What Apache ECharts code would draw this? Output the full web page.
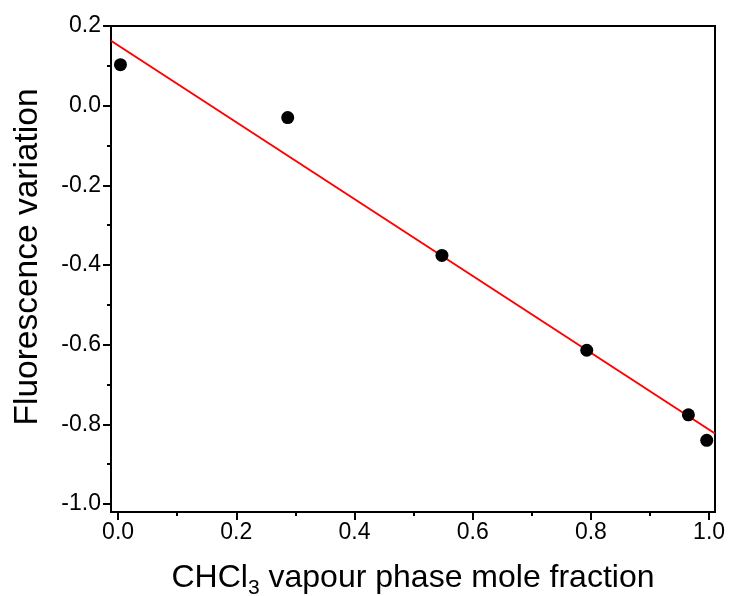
<!DOCTYPE html>
<html>
<head>
<meta charset="utf-8">
<title>Fluorescence variation</title>
<script src="https://cdn.jsdelivr.net/npm/echarts@6/dist/echarts.min.js"></script>
<style>
  html, body { margin: 0; padding: 0; background: #fff; }
  #chart { width: 732px; height: 596px; }
</style>
</head>
<body>
<div id="chart"></div>
<script>
// measured points
var moleFraction = [0.004, 0.287, 0.548, 0.793, 0.965, 0.996];
var fluorescence = [0.103, -0.030, -0.376, -0.614, -0.776, -0.840];
// linear fit, end points at the frame edges
var fitX = [-0.012, 1.01];
var fitY = [0.163, -0.823];
// tick labels
var xTicks = [0, 0.2, 0.4, 0.6, 0.8, 1.0];
var xMinorTicks = [0.1, 0.3, 0.5, 0.7, 0.9];
var yTicks = [-1.0, -0.8, -0.6, -0.4, -0.2, 0, 0.2];
var yMinorTicks = [-0.9, -0.7, -0.5, -0.3, -0.1, 0.1];

var font = "'Liberation Sans', Arial, sans-serif";

var points = [];
for (var i = 0; i < moleFraction.length; i++) {
  points.push([moleFraction[i], fluorescence[i]]);
}
var fitLine = [];
for (var j = 0; j < fitX.length; j++) {
  fitLine.push([fitX[j], fitY[j]]);
}

function fmt(v) {
  return (+v).toFixed(1);
}

var chart = echarts.init(document.getElementById('chart'));
chart.setOption({
  animation: false,
  grid: {
    left: 111,
    right: 17,
    top: 26,
    bottom: 84,
    outerBoundsMode: 'none',
    containLabel: false,
    show: true,
    borderColor: '#000',
    borderWidth: 2
  },
  xAxis: [
    {
      type: 'value',
      min: -0.012,
      max: 1.01,
      name: '{n|CHCl}{s|3}{n| vapour phase mole fraction}',
      nameLocation: 'middle',
      nameGap: 50,
      nameTextStyle: {
        rich: {
          n: { fontSize: 32, fontFamily: font, color: '#000', lineHeight: 38, verticalAlign: 'top' },
          s: { fontSize: 21, fontFamily: font, color: '#000', lineHeight: 21, padding: [16, 0, 0, 0], verticalAlign: 'top' }
        }
      },
      axisLine: { show: true, onZero: false, lineStyle: { color: '#000', width: 2 } },
      axisTick: { show: true, length: 8, lineStyle: { color: '#000', width: 2 }, customValues: xTicks },
      axisLabel: { show: true, margin: 9, fontSize: 23, fontFamily: font, color: '#000', formatter: fmt, customValues: xTicks },
      splitLine: { show: false }
    },
    {
      // minor ticks
      type: 'value',
      position: 'bottom',
      min: -0.012,
      max: 1.01,
      axisLine: { show: false, onZero: false },
      axisTick: { show: true, length: 4, lineStyle: { color: '#000', width: 2 }, customValues: xMinorTicks },
      axisLabel: { show: false },
      splitLine: { show: false }
    }
  ],
  yAxis: [
    {
      type: 'value',
      min: -1.02,
      max: 0.2,
      name: 'Fluorescence variation',
      nameLocation: 'middle',
      nameGap: 66,
      nameTextStyle: { fontSize: 33.5, fontFamily: font, color: '#000', padding: [0, 0, 0, 24] },
      axisLine: { show: true, onZero: false, lineStyle: { color: '#000', width: 2 } },
      axisTick: { show: true, length: 8, lineStyle: { color: '#000', width: 2 }, customValues: yTicks },
      axisLabel: { show: true, margin: 10, fontSize: 23, fontFamily: font, color: '#000', formatter: fmt, customValues: yTicks },
      splitLine: { show: false }
    },
    {
      type: 'value',
      position: 'left',
      min: -1.02,
      max: 0.2,
      axisLine: { show: false, onZero: false },
      axisTick: { show: true, length: 4, lineStyle: { color: '#000', width: 2 }, customValues: yMinorTicks },
      axisLabel: { show: false },
      splitLine: { show: false }
    }
  ],
  series: [
    {
      type: 'line',
      data: fitLine,
      showSymbol: false,
      symbol: 'none',
      lineStyle: { color: '#ff0000', width: 2 },
      z: 2
    },
    {
      type: 'scatter',
      data: points,
      symbol: 'circle',
      symbolSize: 13,
      itemStyle: { color: '#000', opacity: 1 },
      z: 3
    }
  ]
});
</script>
</body>
</html>
